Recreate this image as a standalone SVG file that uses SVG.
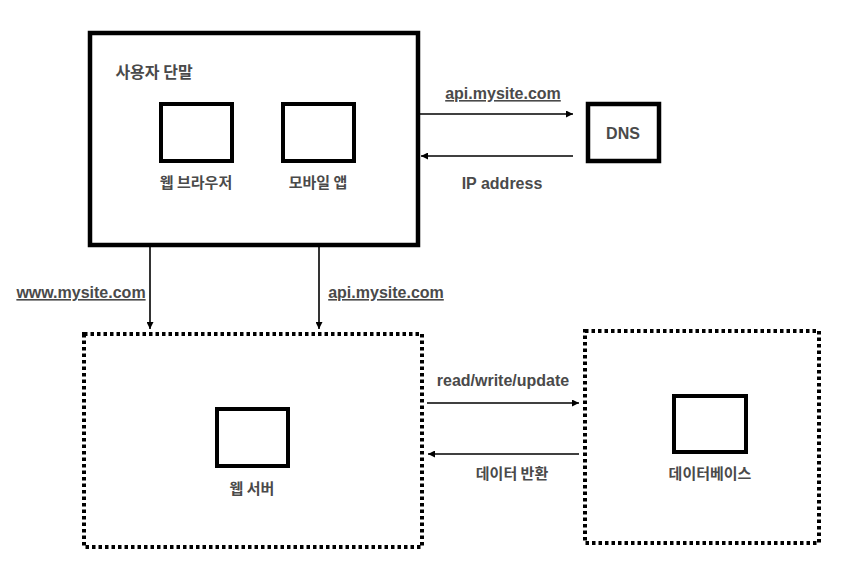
<svg xmlns="http://www.w3.org/2000/svg" width="859" height="569" viewBox="0 0 859 569">
<defs>
<marker id="ah" viewBox="0 0 10 10" refX="10" refY="5" markerWidth="7" markerHeight="7" markerUnits="userSpaceOnUse" orient="auto">
<path d="M0,0 L10,5 L0,10 Z" fill="#000"/>
</marker>
<style>
.t{font-family:"Liberation Sans","Noto Sans CJK KR",Arial,sans-serif;font-weight:bold;font-size:16px;fill:#4a4a4a;text-anchor:middle}
.k{font-family:"Noto Sans CJK KR","Liberation Sans",sans-serif;font-weight:bold;font-size:15px;fill:#4a4a4a;text-anchor:middle}
.u{text-decoration:underline}
.box{fill:#fff;stroke:#000;stroke-width:4.5}
.in{fill:#fff;stroke:#000;stroke-width:4}
.dot{fill:#fff;stroke:#000;stroke-width:4;stroke-dasharray:3.5 3}
.c{stroke:#000;stroke-width:1.6;fill:none;marker-end:url(#ah)}
</style>
</defs>
<rect width="859" height="569" fill="#fff"/>
<g id="client">
<rect class="box" x="90" y="33" width="328" height="212"/>
<text class="k" x="154" y="78" style="font-size:16px">사용자 단말</text>
</g>
<g id="browser">
<rect class="in" x="161" y="104" width="71" height="57"/>
<text class="k" x="196" y="188">웹 브라우저</text>
</g>
<g id="mobile">
<rect class="in" x="283" y="104" width="71" height="57"/>
<text class="k" x="318" y="188">모바일 앱</text>
</g>
<g id="dns">
<rect class="box" x="588" y="104" width="71" height="57"/>
<text class="t" x="623" y="139">DNS</text>
</g>
<g id="webserver">
<rect class="dot" x="84" y="334" width="338" height="213"/>
<rect class="in" x="217" y="409" width="71" height="57"/>
<text class="k" x="252" y="494">웹 서버</text>
</g>
<g id="database">
<rect class="dot" x="585" y="331" width="234" height="212"/>
<rect class="in" x="674" y="396" width="72" height="56"/>
<text class="k" x="710" y="479">데이터베이스</text>
</g>
<g id="connectors">
<line class="c" x1="420" y1="114" x2="573" y2="114"/>
<line class="c" x1="573" y1="156" x2="421" y2="156"/>
<line class="c" x1="150" y1="247" x2="150" y2="329"/>
<line class="c" x1="319" y1="247" x2="319" y2="329"/>
<line class="c" x1="427" y1="403" x2="579" y2="403"/>
<line class="c" x1="579" y1="454" x2="428" y2="454"/>
<text class="t u" x="503" y="99">api.mysite.com</text>
<text class="t" x="502" y="189">IP address</text>
<text class="t u" x="81" y="298">www.mysite.com</text>
<text class="t u" x="386" y="298">api.mysite.com</text>
<text class="t" x="503" y="386">read/write/update</text>
<text class="k" x="512" y="479">데이터 반환</text>
</g>
</svg>
